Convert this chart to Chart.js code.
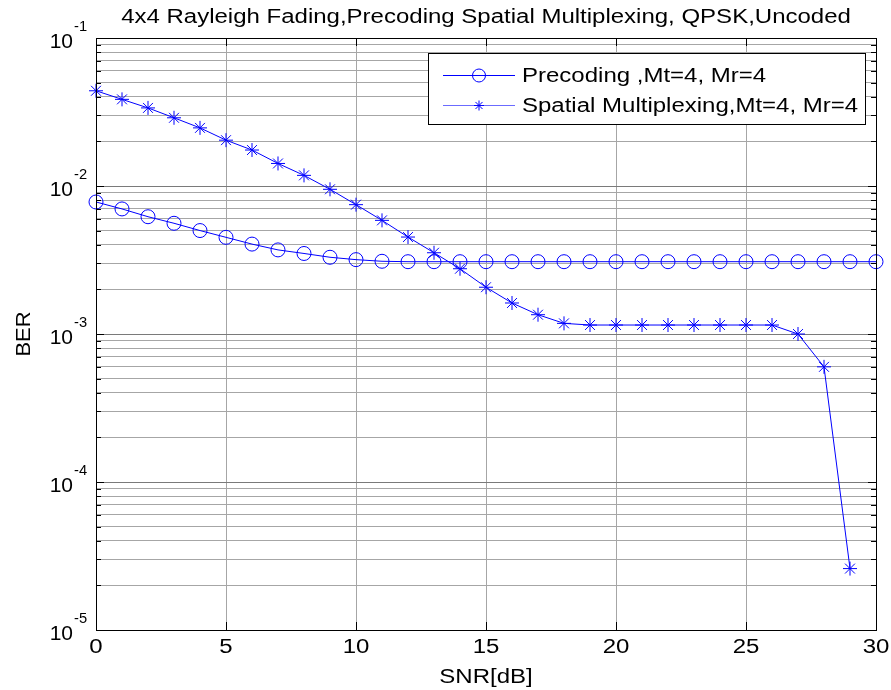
<!DOCTYPE html>
<html>
<head>
<meta charset="utf-8">
<title>4x4 Rayleigh Fading BER</title>
<script src="https://cdn.jsdelivr.net/npm/chart.js@4.4.1/dist/chart.umd.min.js"></script>
<style>
    html, body { margin: 0; padding: 0; background: #fff; }
    #wrap { width: 891px; height: 690px; }
</style>
</head>
<body>
<div id="wrap"><canvas id="berChart" width="891" height="690"></canvas></div>
<script>
// --- Data ---
const snr = [0, 1, 2, 3, 4, 5, 6, 7, 8, 9, 10, 11, 12, 13, 14, 15, 16, 17, 18, 19, 20, 21, 22, 23, 24, 25, 26, 27, 28, 29, 30];
const precodingBer = [7.8e-3, 7.0e-3, 6.2e-3, 5.6e-3, 5.0e-3, 4.5e-3, 4.05e-3, 3.7e-3, 3.5e-3, 3.3e-3, 3.18e-3,
    3.1e-3, 3.08e-3, 3.08e-3, 3.08e-3, 3.08e-3, 3.08e-3, 3.08e-3, 3.08e-3, 3.08e-3, 3.08e-3,
    3.08e-3, 3.08e-3, 3.08e-3, 3.08e-3, 3.08e-3, 3.08e-3, 3.08e-3, 3.08e-3, 3.08e-3, 3.08e-3];
const spatialBer = [0.044, 0.0385, 0.0337, 0.0289, 0.0247, 0.0204, 0.0175, 0.0142, 0.0118, 0.0095, 0.00748,
    0.00586, 0.00452, 0.00354, 0.00276, 0.00207, 0.00162, 0.00135, 0.00118, 0.00115, 0.00115,
    0.00115, 0.00115, 0.00115, 0.00115, 0.00115, 0.00115, 0.00100, 6.0e-4, 2.6e-5];
const xTicks = [0, 5, 10, 15, 20, 25, 30];
const yDecades = [-5, -4, -3, -2, -1];
const seriesNames = ['Precoding ,Mt=4, Mr=4', 'Spatial Multiplexing,Mt=4, Mr=4'];
const chartTitle = '4x4 Rayleigh Fading,Precoding Spatial Multiplexing, QPSK,Uncoded';
const xTitle = 'SNR[dB]';
const yTitle = 'BER';

const FONT = '"Liberation Sans", Arial, Helvetica, sans-serif';
const BLUE = '#0000ff';
const SX = 1.2; // the reference text is a bit wide

function toPoints(xs, ys) {
    return ys.map((y, i) => ({ x: xs[i], y: y }));
}

function isDecade(v) {
    const e = Math.log10(v);
    return Math.abs(e - Math.round(e)) < 1e-9;
}

// draw text stretched horizontally, baseline at y
function wideText(ctx, text, x, y, align, size, sx) {
    ctx.save();
    ctx.font = size + 'px ' + FONT;
    ctx.textAlign = 'left';
    ctx.textBaseline = 'alphabetic';
    const w = ctx.measureText(text).width * sx;
    const left = align === 'center' ? x - w / 2 : (align === 'right' ? x - w : x);
    ctx.translate(left, y);
    ctx.scale(sx, 1);
    ctx.fillText(text, 0, 0);
    ctx.restore();
    return w;
}

function drawMarker(ctx, style, x, y, r) {
    ctx.beginPath();
    if (style === 'circle') {
        ctx.arc(x, y, r, 0, Math.PI * 2);
    } else {
        const d = r * Math.SQRT1_2;
        ctx.moveTo(x - r, y); ctx.lineTo(x + r, y);
        ctx.moveTo(x, y - r); ctx.lineTo(x, y + r);
        ctx.moveTo(x - d, y - d); ctx.lineTo(x + d, y + d);
        ctx.moveTo(x - d, y + d); ctx.lineTo(x + d, y - d);
    }
    ctx.stroke();
}

// --- MATLAB-like frame, ticks, labels, title and legend ---
const matlabFrame = {
    id: 'matlabFrame',
    afterDraw(chart) {
        const { ctx, chartArea: a, scales: { x, y } } = chart;
        ctx.save();

        // box
        ctx.strokeStyle = '#000';
        ctx.lineWidth = 1;
        ctx.strokeRect(Math.round(a.left) + 0.5, Math.round(a.top) + 0.5, Math.round(a.width), Math.round(a.height));

        // inward ticks
        ctx.beginPath();
        y.ticks.forEach(t => {
            const py = Math.round(y.getPixelForValue(t.value)) + 0.5;
            const len = isDecade(t.value) ? 8 : 5;
            ctx.moveTo(a.left, py); ctx.lineTo(a.left + len, py);
            ctx.moveTo(a.right, py); ctx.lineTo(a.right - len, py);
        });
        x.ticks.forEach(t => {
            const px = Math.round(x.getPixelForValue(t.value)) + 0.5;
            ctx.moveTo(px, a.bottom); ctx.lineTo(px, a.bottom - 8);
            ctx.moveTo(px, a.top); ctx.lineTo(px, a.top + 8);
        });
        ctx.stroke();

        ctx.fillStyle = '#000';

        // y tick labels: 10^n
        yDecades.forEach(e => {
            const py = y.getPixelForValue(Math.pow(10, e));
            wideText(ctx, '10', 73, py + 9.5, 'right', 20, 1.05);
            wideText(ctx, String(e), 74, py - 7, 'left', 14, 1.05);
        });

        // x tick labels
        xTicks.forEach(v => {
            wideText(ctx, String(v), x.getPixelForValue(v), 653, 'center', 20, SX);
        });

        // axis titles
        wideText(ctx, xTitle, (a.left + a.right) / 2, 683, 'center', 20, SX);
        ctx.save();
        ctx.translate(30, (a.top + a.bottom) / 2);
        ctx.rotate(-Math.PI / 2);
        wideText(ctx, yTitle, 0, 0, 'center', 20, 1.1);
        ctx.restore();

        // title
        wideText(ctx, chartTitle, (a.left + a.right) / 2, 23, 'center', 20, SX);

        // legend
        const lx = 428, ly = 53, lw = 437, lh = 71;
        ctx.fillStyle = '#fff';
        ctx.fillRect(lx, ly, lw, lh);
        ctx.strokeStyle = '#000';
        ctx.strokeRect(lx + 0.5, ly + 0.5, lw, lh);
        const rows = [75, 105];
        chart.data.datasets.forEach((ds, i) => {
            const ry = rows[i] + 0.5;
            ctx.strokeStyle = i === 0 ? BLUE : '#6b6bff';
            ctx.lineWidth = 1;
            ctx.beginPath();
            ctx.moveTo(443, ry); ctx.lineTo(515, ry);
            ctx.stroke();
            ctx.strokeStyle = BLUE;
            drawMarker(ctx, ds.pointStyle, 479, ry, ds.pointStyle === 'circle' ? 6.5 : 5);
            ctx.fillStyle = '#000';
            wideText(ctx, ds.label, 522, rows[i] + 7, 'left', 20, SX);
        });

        ctx.restore();
    }
};

const ctx = document.getElementById('berChart').getContext('2d');
new Chart(ctx, {
    type: 'line',
    data: {
        datasets: [
            {
                label: seriesNames[0],
                data: toPoints(snr, precodingBer),
                borderColor: BLUE, borderWidth: 1,
                backgroundColor: 'rgba(0,0,0,0)',
                pointStyle: 'circle', pointRadius: 7,
                pointBorderColor: BLUE, pointBackgroundColor: 'rgba(0,0,0,0)', pointBorderWidth: 1,
                tension: 0, clip: false
            },
            {
                label: seriesNames[1],
                data: toPoints(snr, spatialBer),
                borderColor: BLUE, borderWidth: 1,
                backgroundColor: 'rgba(0,0,0,0)',
                pointStyle: 'star', pointRadius: 7,
                pointBorderColor: BLUE, pointBackgroundColor: 'rgba(0,0,0,0)', pointBorderWidth: 1,
                tension: 0, clip: false
            }
        ]
    },
    options: {
        responsive: false,
        animation: false,
        devicePixelRatio: 1,
        layout: { padding: { left: 0, right: 15, top: 38, bottom: 0 } },
        plugins: {
            legend: { display: false },
            title: { display: false },
            tooltip: { enabled: false }
        },
        scales: {
            x: {
                type: 'linear', min: 0, max: 30,
                afterBuildTicks: s => { s.ticks = xTicks.map(v => ({ value: v })); },
                afterFit: s => { s.height = 60; },
                border: { display: false },
                grid: { color: '#a6a6a6', lineWidth: 1, drawTicks: false },
                ticks: { autoSkip: false, maxRotation: 0, callback: () => '' },
                title: { display: false }
            },
            y: {
                type: 'logarithmic', min: 1e-5, max: 1e-1,
                afterBuildTicks: s => {
                    const t = [];
                    yDecades.forEach(e => {
                        for (let m = 1; m <= 9; m++) {
                            const v = m * Math.pow(10, e);
                            if (v <= 0.1000001) t.push({ value: v });
                        }
                    });
                    s.ticks = t;
                },
                afterFit: s => { s.width = 96; },
                border: { display: false },
                grid: {
                    drawTicks: false,
                    lineWidth: 1,
                    color: c => (c.tick && isDecade(c.tick.value)) ? '#7a7a7a' : '#a6a6a6'
                },
                ticks: { autoSkip: false, callback: () => '', padding: 0 },
                title: { display: false }
            }
        }
    },
    plugins: [matlabFrame]
});
</script>
</body>
</html>
